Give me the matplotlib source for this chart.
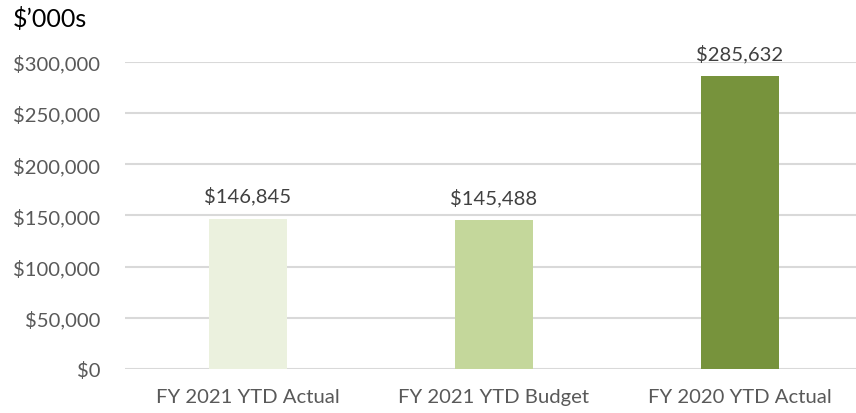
import matplotlib
matplotlib.use("Agg")
import matplotlib.pyplot as plt
from matplotlib.ticker import FuncFormatter

categories = ["FY 2021 YTD Actual", "FY 2021 YTD Budget", "FY 2020 YTD Actual"]
values = [146845, 145488, 285632]
colors = ["#EBF1DE", "#C4D79B", "#77933C"]
yticks = [0, 50000, 100000, 150000, 200000, 250000, 300000]

plt.rcParams['font.family'] = ['Lato', 'DejaVu Sans']
W, H = 856, 414
fig = plt.figure(figsize=(W/100, H/100), dpi=100)
ax = fig.add_axes([125/W, 44/H, 1 - 125/W, (370-62.7)/H])

x = list(range(len(categories)))
bars = ax.bar(x, values, width=0.317, color=colors, zorder=3)
ax.set_xlim(-0.5, -0.5 + 731/246)
ax.set_ylim(0, 300000)
ax.set_yticks(yticks)
ax.yaxis.set_major_formatter(FuncFormatter(lambda v, p: f"${v:,.0f}"))
ax.set_xticks(x)
ax.set_xticklabels(categories)
ax.grid(axis='y', color='#D9D9D9', linewidth=1.5, zorder=0)
ax.set_axisbelow(True)
for s in ax.spines.values():
    s.set_visible(False)
ax.tick_params(axis='both', length=0, colors='#595959', labelsize=14.6)
ax.tick_params(axis='y', pad=18)
ax.tick_params(axis='x', pad=14)
for b, v in zip(bars, values):
    ax.annotate(f"${v:,.0f}", (b.get_x() + b.get_width()/2, v), xytext=(0, 10),
                textcoords='offset points', ha='center', va='bottom',
                fontsize=14.6, color='#404040')
fig.text(13/W, 1 - 7/H, "$\u2019000s", fontsize=18, color='black', ha='left', va='top')
fig.savefig("out.png", dpi=100)
